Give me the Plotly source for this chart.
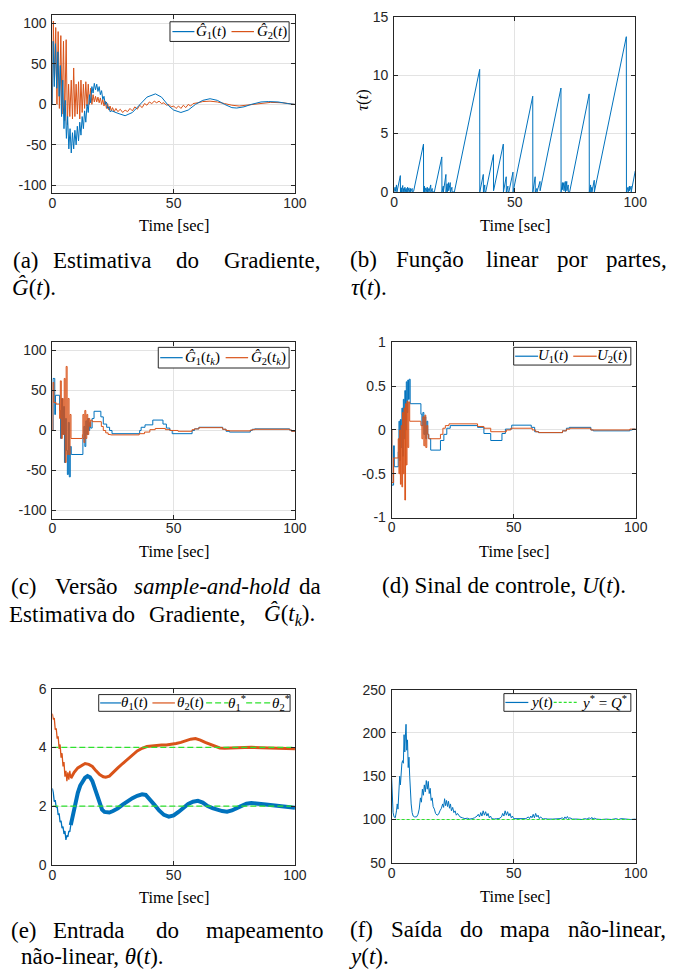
import plotly.graph_objects as go

# ---------------- DATA ----------------
# (a) gradient estimate
a_t1 = [0, 0.3, 0.8, 1.3, 1.8, 2.3, 2.8, 3.3, 3.8, 4.3, 4.8, 5.3, 5.8, 6.3, 6.8, 7.3, 7.8, 8.3, 8.8, 9.3,
        9.8, 10.3, 10.8, 11.3, 11.8, 12.3, 12.8, 13.3, 13.8, 14.3, 14.8, 15.3, 15.8, 16.3, 16.8, 17.3, 17.8,
        18.3, 18.8, 19.3, 19.8, 20.3, 20.8, 21.3, 21.8, 22.3, 22.8, 23.3, 23.8, 24.5, 27, 30, 33, 36, 39,
        42.5, 45, 48, 50, 53, 56, 59, 62, 65, 68, 71, 74, 76, 79, 82, 86, 89, 93, 97, 100]
a_g1 = [0, 78, 22, 75, 20, 65, 10, 48, -15, 30, -30, 5, -42, -15, -55, -30, -60, -35, -55, -32,
        -50, -27, -45, -22, -38, -15, -30, -8, -22, 0, -10, 12, 2, 22, 14, 26, 18,
        25, 16, 22, 12, 17, 6, 10, 0, 3, -5, -3, -9, -8, -11, -14, -10, 0, 9,
        13, 9, -2, -7, -10, -7, 0, 5, 7, 5, 0, -4, -4.5, -3, 0, 3, 3.5, 3, 1, 0]
a_t2 = [0, 0.4, 0.9, 1.4, 1.9, 2.4, 2.9, 3.5, 4.0, 4.6, 5.1, 5.7, 6.2, 6.7, 7.2, 7.8, 8.3, 8.8, 9.3, 9.8,
        10.3, 10.8, 11.3, 11.8, 12.3, 12.8, 13.3, 13.8, 14.3, 14.8, 15.3, 15.8, 16.3, 16.8, 17.3, 17.8,
        18.3, 18.8, 19.3, 19.8, 20.3, 20.8, 21.3, 21.8, 22.3, 22.8, 23.3, 23.8, 24.3, 24.8, 25.5, 26.2,
        27, 28, 29, 30, 31, 32, 33, 34, 35, 36, 37, 38, 39, 40, 41, 42, 43, 44, 45, 46, 47, 48, 49, 50,
        51, 52, 53, 54, 55, 56, 57, 58, 60, 62, 65, 68, 71, 74, 77, 80, 85, 90, 95, 100]
a_g2 = [0, 103, 30, 95, 0, 90, -5, 85, -12, 78, -20, 80, -25, 25, -15, 30, -18, 45, -15, 25,
        -12, 28, -18, 30, -10, 25, -5, 28, -2, 25, 0, 20, 0, 12, 3, 10,
        3, 9, 2, 8, 0, 6, -2, 4, -5, 1, -7, -2, -8, -4, -9, -5,
        -9, -6, -10, -7, -9, -5, -8, -3, -6, -1, -4, 1, -1, 3, 1, 4, 2, 4, 1, 2, -1, 0, -3, -2,
        -5, -2, -5, -1, -4, 0, -2, 1, 2, 3.5, 4, 3, 1, -1, -2, -1, 1, 2.5, 2, 0]

# (b) piecewise linear tau(t)  (t, tau)
b_tau = [(0, 0), (0.4, 0.4), (0.6, 0.05), (1.0, 0.6), (1.2, 0), (2.6, 1.4), (2.65, 0), (3.0, 0.35), (3.05, 0),
         (3.6, 0.55), (3.65, 0), (4.0, 0.3), (4.05, 0), (4.5, 0.4), (4.55, 0), (5.0, 0.3), (5.05, 0), (5.6, 0.4),
         (5.65, 0), (6.2, 0.35), (6.25, 0), (6.8, 0.3), (6.85, 0), (7.5, 0.3), (7.55, 0), (8.1, 0.05), (12.2, 4.1),
         (12.25, 0), (12.6, 0.5), (12.65, 0), (13.2, 0.35), (13.25, 0), (13.8, 0.4), (13.85, 0), (14.4, 0.3),
         (14.45, 0), (15.2, 0.6), (15.25, 0), (15.8, 0.3), (15.85, 0), (16.7, 0), (19.8, 3.0), (19.85, 0),
         (20.4, 0.5), (20.45, 0), (21.5, 1.5), (21.55, 0), (22.0, 0.7), (22.05, 0), (22.6, 0.8), (22.65, 0.1),
         (23.3, 0.8), (23.35, 0), (24.0, 0.4), (24.05, 0), (25.0, 0), (35.5, 10.5), (35.55, 0), (37.0, 1.5),
         (37.05, 0), (37.6, 0.6), (37.65, 0), (38.0, 0), (41.2, 3.2), (41.25, 0.1), (45.3, 4.1), (45.35, 0),
         (46.5, 1.3), (46.55, 0), (47.2, 0.5), (47.25, 0), (47.6, 0), (49.3, 1.7), (49.35, 0), (57.5, 8.2),
         (57.55, 0), (58.5, 1.3), (58.55, 0), (59.2, 0.3), (59.25, 0), (60.5, 0.9), (60.55, 0.1), (69.2, 8.9),
         (69.25, 0), (69.8, 0.8), (69.85, 0.2), (70.4, 0.8), (70.45, 0.1), (71.0, 0.9), (71.05, 0), (71.6, 0.9),
         (71.65, 0.1), (72.2, 0.6), (72.25, 0), (72.8, 0), (80.9, 8.4), (80.95, 0), (81.5, 0.6), (81.55, 0),
         (82.0, 0.4), (82.05, 0), (83.0, 1.0), (83.05, 0), (96.3, 13.3), (96.35, 0), (97.0, 0.4), (97.05, 0),
         (97.6, 0.5), (97.65, 0.1), (98.3, 0.5), (98.35, 0), (100, 1.8)]

# (c) sample-and-hold gradient (t_k, value)
c_g1 = [(0, 0), (0.3, 65), (1.0, 20), (1.3, 44), (3.0, 25), (3.4, -10), (3.8, 40), (4.2, -5), (4.6, 30),
        (5.0, -40), (5.4, 15), (5.8, -25), (6.2, -55), (6.6, 10), (7.0, -58), (7.4, -20), (7.8, -30),
        (12.6, -10), (13.0, 5), (13.4, -20), (13.8, 12), (14.2, -5), (14.6, 15), (15.0, 0), (15.4, 10),
        (15.8, 3), (16.4, 15), (17.2, 24), (20.0, 17), (21.0, 8), (22.4, 4), (23.6, 0), (24.6, -4),
        (36.0, 0), (36.6, 4), (38.2, 7), (41.4, 13), (45.6, 8), (47.0, 3), (48.4, 0), (49.4, -4),
        (57.6, 0), (58.6, 2), (60.4, 4), (70.2, 1.5), (71.6, -1), (73.0, -2), (81.6, 0), (82.4, 1.5),
        (83.4, 2), (97.8, 0.5), (98.6, -1), (100, -1)]
c_g2 = [(0, 0), (0.2, 60), (0.6, 35), (1.5, 33), (3.0, 15), (3.3, 62), (3.7, -10), (4.1, 40), (4.5, -5),
        (4.9, 65), (5.3, -40), (5.7, 80), (6.1, -30), (6.5, 40), (6.9, -30), (7.3, 20), (7.7, -10),
        (12.4, -5), (12.6, 20), (13.0, -15), (13.4, 25), (13.8, -10), (14.2, 20), (14.6, -5), (15.0, 15),
        (15.4, 5), (15.8, 13), (16.4, 11), (20.2, 5), (21.0, 0), (22.0, -3), (23.0, -5), (24.0, -5.5),
        (35.8, -4), (38.0, -2), (40.2, 1), (42.4, 2.5), (46.6, 1), (48.6, 0), (51.8, -1), (57.6, 1),
        (58.6, 2), (60.4, 3.5), (70.2, 1.5), (71.6, 0), (73.0, -0.5), (81.6, 0.5), (82.4, 1), (83.4, 1.5),
        (97.8, 0.5), (98.6, -1), (100, -1)]

# (d) control signal (t, value)
d_u1 = [(0, 0), (0.05, -0.63), (0.8, -0.18), (1.1, -0.42), (2.7, -0.25), (3.0, 0.1), (3.3, -0.35), (3.6, 0.12),
        (3.9, -0.2), (4.2, 0.25), (4.5, -0.3), (4.8, 0.35), (5.1, -0.1), (5.4, 0.45), (5.7, 0.0), (6.0, 0.55),
        (6.3, 0.2), (6.6, 0.57), (6.9, 0.35), (7.2, 0.58), (7.6, 0.3), (12.0, 0.18), (12.4, 0.05), (12.8, 0.2),
        (13.2, -0.05), (13.6, 0.15), (14.0, -0.1), (14.4, 0.1), (14.8, -0.05), (15.2, -0.1), (16.0, -0.23),
        (20.0, -0.12), (21.4, -0.05), (22.6, 0.02), (24.0, 0.05), (35.2, 0.03), (37.8, -0.04), (40.6, -0.12),
        (45.2, -0.04), (46.6, 0.01), (49.2, 0.055), (57.2, 0.03), (58.6, -0.02), (60.2, -0.03), (70.0, -0.01),
        (71.6, 0.02), (72.8, 0.03), (81.6, 0.0), (82.6, -0.01), (97.6, 0.0), (98.6, 0.01), (100, 0.01)]
d_u2 = [(0, 0), (0.1, -0.6), (0.8, -0.32), (2.7, -0.1), (3.0, -0.5), (3.3, 0.0), (3.6, -0.62), (3.9, 0.05),
        (4.2, -0.65), (4.5, 0.2), (4.8, -0.5), (5.1, 0.25), (5.4, -0.8), (5.7, 0.3), (6.0, -0.4), (6.3, 0.33),
        (6.6, -0.2), (7.0, 0.32), (7.4, 0.1), (12.0, 0.05), (12.4, -0.1), (12.8, 0.15), (13.2, -0.18),
        (13.6, 0.17), (14.0, -0.2), (14.4, 0.05), (14.8, -0.05), (15.2, -0.1), (20.0, -0.05), (21.0, 0.02),
        (22.0, 0.05), (23.5, 0.07), (35.2, 0.04), (37.8, 0.02), (40.6, -0.02), (47.0, 0.0), (48.8, 0.02),
        (57.6, 0.0), (59.0, -0.02), (60.2, -0.03), (70.0, -0.01), (71.6, 0.01), (73.0, 0.02), (81.6, 0.0),
        (97.6, 0.01), (100, 0.01)]

# (e) map input theta(t)
e_th1_early = [(0, 2.6), (0.4, 2.45), (0.8, 2.15), (1.2, 2.2), (1.6, 1.95), (2.0, 1.98), (2.4, 1.7), (2.8, 1.75),
               (3.2, 1.45), (3.6, 1.5), (4.0, 1.25), (4.4, 1.3), (4.8, 1.05), (5.2, 1.15), (5.6, 0.85), (6.0, 1.0),
               (6.4, 0.95), (6.8, 1.15), (7.2, 1.12), (7.6, 1.35)]
e_th1_late = [(7.6, 1.35), (8.5, 1.7), (9.5, 2.1), (10.5, 2.45), (11.5, 2.7), (12.5, 2.85), (13.5, 2.97),
              (14.5, 3.02), (15.5, 2.98), (16.5, 2.85), (17.5, 2.6), (18.5, 2.3), (19.5, 2.05), (20.5, 1.88),
              (21.5, 1.8), (22.5, 1.78), (23.5, 1.78), (25, 1.83), (27, 1.92), (29, 2.05), (31, 2.17), (33, 2.27),
              (35, 2.35), (37, 2.4), (38.5, 2.38), (40, 2.25), (42, 2.05), (44, 1.85), (46, 1.7), (48, 1.64),
              (50, 1.68), (52, 1.8), (54, 1.95), (56, 2.07), (58, 2.15), (60, 2.18), (62, 2.12), (64, 2.0),
              (66, 1.93), (68, 1.87), (70, 1.83), (72, 1.81), (74, 1.85), (76, 1.93), (78, 2.02), (80, 2.08),
              (82, 2.1), (84, 2.1), (86, 2.07), (88, 2.05), (90, 2.03), (92, 2.0), (94, 1.98), (96, 1.96),
              (98, 1.95), (100, 1.94)]
e_th2_early = [(0, 5.15), (0.4, 4.95), (0.8, 5.0), (1.2, 4.6), (1.6, 4.65), (2.0, 4.3), (2.4, 4.38), (2.8, 3.95),
               (3.2, 4.1), (3.6, 3.65), (4.0, 3.8), (4.4, 3.35), (4.8, 3.5), (5.2, 3.0), (5.6, 3.2), (6.0, 2.85),
               (6.4, 3.15), (6.8, 2.9), (7.2, 3.2), (7.6, 2.95)]
e_th2_late = [(7.6, 2.95), (9, 3.15), (10.5, 3.3), (12, 3.38), (13.5, 3.45), (15, 3.42), (16.5, 3.35), (18, 3.2),
              (19.5, 3.07), (21, 3.0), (22, 2.98), (23.5, 3.02), (25, 3.15), (27, 3.3), (29, 3.45), (31, 3.6),
              (33, 3.75), (35, 3.88), (37, 3.97), (39, 4.03), (41, 4.05), (43, 4.07), (45, 4.08), (47, 4.08),
              (49, 4.1), (51, 4.13), (53, 4.17), (55, 4.22), (57, 4.28), (59, 4.3), (61, 4.25), (63, 4.17),
              (65, 4.1), (67, 4.03), (69, 3.98), (71, 3.97), (73, 3.98), (75, 3.99), (78, 4.0), (82, 4.0),
              (86, 3.99), (90, 3.98), (94, 3.97), (97, 3.96), (100, 3.95)]
theta_star = [2, 4]

# (f) map output y(t)
f_y = [(0, 148), (0.3, 130), (0.6, 108), (1.0, 103), (1.5, 102), (2.0, 110), (2.3, 118), (2.6, 112), (3.0, 135),
       (3.3, 150), (3.6, 140), (3.9, 155), (4.2, 165), (4.5, 168), (4.8, 165), (5.1, 198), (5.4, 178), (5.7, 200),
       (5.9, 210), (6.2, 180), (6.5, 192), (6.8, 160), (7.1, 172), (7.4, 150), (7.7, 130), (8.0, 118), (8.4, 108),
       (8.8, 104), (9.4, 103), (10.2, 103), (10.8, 106), (11.3, 112), (11.8, 125), (12.2, 120), (12.6, 135),
       (13.0, 128), (13.4, 140), (13.8, 132), (14.2, 145), (14.6, 135), (15.0, 144), (15.4, 130), (15.8, 136),
       (16.2, 122), (16.6, 125), (17.0, 115), (17.5, 112), (18.0, 107), (18.6, 105), (19.2, 106), (19.8, 110),
       (20.4, 113), (20.9, 118), (21.3, 114), (21.7, 124), (22.1, 116), (22.5, 122), (22.9, 115), (23.3, 121),
       (23.7, 113), (24.1, 118), (24.5, 110), (25, 114), (25.5, 108), (26, 110), (26.5, 105), (27, 107),
       (28, 103), (29, 102), (30, 101), (31, 101.5), (32, 100.5), (33, 101), (34, 102), (35, 104), (35.5, 106),
       (36, 103), (36.5, 108), (37, 104), (37.5, 110), (38, 105), (38.5, 109), (39, 104), (39.5, 107), (40, 102),
       (40.5, 104), (41, 101), (42, 100.5), (43, 101), (44, 101), (45, 103), (45.5, 107), (46, 104), (46.5, 110),
       (47, 105), (47.5, 109), (48, 104), (48.5, 107), (49, 102), (49.5, 104), (50, 101), (51, 101), (52, 100.5),
       (53, 100.5), (54, 100.5), (55, 101), (56, 103), (56.5, 101), (57, 104), (57.5, 102), (58, 106),
       (58.5, 102), (59, 107), (59.5, 103), (60, 105), (60.5, 101), (61, 103), (62, 100.5), (63, 101),
       (64, 100.5), (66, 100.5), (68, 100.5), (69, 101), (70, 102), (70.5, 100.5), (71, 103), (71.5, 101),
       (72, 103.5), (72.5, 101), (73, 102), (74, 100.5), (76, 100.5), (78, 100), (79, 101), (80, 100.5),
       (81, 102), (81.5, 100.5), (82, 102.5), (82.5, 100.5), (83, 101.5), (84, 100.5), (86, 100), (88, 100.5),
       (90, 100), (92, 101), (93, 100), (94, 101), (96, 100.5), (98, 100), (100, 100.5)]
y_star = 100

# axis ticks
x_ticks = [0, 50, 100]
y_ticks = {1: [-100, -50, 0, 50, 100], 2: [0, 5, 10, 15], 3: [-100, -50, 0, 50, 100],
           4: [-1, -0.5, 0, 0.5, 1], 5: [0, 2, 4, 6], 6: [50, 100, 150, 200, 250]}
y_ranges = {1: [-110, 110], 2: [0, 15], 3: [-110, 110], 4: [-1, 1], 5: [0, 6], 6: [50, 250]}

# ---------------- STYLE / LAYOUT ----------------
W, H = 678, 978
def X(p): return p / W
def Y(p): return 1 - p / H

BLUE = '#0072BD'
ORANGE = '#D95319'
GREEN = '#2ee22e'
AXC = '#262626'
SERIF = 'Liberation Serif'
SANS = 'Liberation Sans'
CAP = 23
TTL = 16.5

boxes = {1: (49.5, 298, 7.5, 188.5), 2: (399.5, 646.5, 9, 187), 3: (49.5, 298, 340, 519),
         4: (397, 647, 340, 518), 5: (49.5, 298, 692, 871), 6: (397, 647, 693, 869)}

def split(pts):
    return [p[0] for p in pts], [p[1] for p in pts]

def fmt(v):
    return '%g' % v

fig = go.Figure()

def add(i, xs, ys, color, width=1.0, dash='solid', shape='linear'):
    fig.add_trace(go.Scatter(x=xs, y=ys, mode='lines', xaxis='x' + (str(i) if i > 1 else ''),
                             yaxis='y' + (str(i) if i > 1 else ''),
                             line=dict(color=color, width=width, dash=dash, shape=shape),
                             showlegend=False, hoverinfo='skip'))

add(1, a_t2, a_g2, ORANGE)
add(1, a_t1, a_g1, BLUE)
bt, bv = split(b_tau)
add(2, bt, bv, BLUE)
t, v = split(c_g1); add(3, t, v, BLUE, shape='hv')
t, v = split(c_g2); add(3, t, v, ORANGE, shape='hv')
t, v = split(d_u1); add(4, t, v, BLUE, shape='hv')
t, v = split(d_u2); add(4, t, v, ORANGE, shape='hv')
t, v = split(e_th1_early); add(5, t, v, BLUE, 1.3)
t, v = split(e_th1_late); add(5, t, v, BLUE, 4)
t, v = split(e_th2_early); add(5, t, v, ORANGE, 1.3)
t, v = split(e_th2_late); add(5, t, v, ORANGE, 3)
for s in theta_star:
    add(5, [0, 100], [s, s], GREEN, 1.3, '6px,3px')
t, v = split(f_y); add(6, t, v, BLUE)
add(6, [0, 100], [y_star, y_star], GREEN, 1.2, '3px,2px')

layout = dict(width=W, height=H, margin=dict(l=0, r=0, t=0, b=0, pad=0),
              paper_bgcolor='white', plot_bgcolor='white', showlegend=False)
for i, (x0, x1, y0, y1) in boxes.items():
    sfx = str(i) if i > 1 else ''
    common = dict(showline=True, linecolor=AXC, linewidth=1, mirror='ticks', ticks='inside', ticklen=4,
                  tickcolor=AXC, tickwidth=1, showgrid=True, gridcolor='#e3e3e3', gridwidth=1, zeroline=False,
                  tickfont=dict(family=SANS, size=14, color=AXC), fixedrange=True)
    layout['xaxis' + sfx] = dict(common, domain=[X(x0), X(x1)], anchor='y' + sfx, range=[0, 100],
                                 tickmode='array', tickvals=x_ticks, ticktext=[fmt(v) for v in x_ticks],
                                 ticklabelstandoff=-3)
    layout['yaxis' + sfx] = dict(common, domain=[Y(y1), Y(y0)], anchor='x' + sfx, range=y_ranges[i],
                                 tickmode='array', tickvals=y_ticks[i], ticktext=[fmt(v) for v in y_ticks[i]],
                                 ticklabelstandoff=2)
fig.update_layout(**layout)

annotations = []
shapes = []

def text(s, x, y, size=CAP, angle=0, family=SERIF):
    annotations.append(dict(text=s, x=X(x), y=Y(y), xref='paper', yref='paper', xanchor='center',
                            yanchor='middle', showarrow=False, textangle=angle, borderpad=0,
                            font=dict(family=family, size=size, color='black')))

# axis titles
for cx, cy in [(174, 221), (523, 221.5), (174.5, 552.5), (522.5, 552.5), (174.5, 904), (523, 903.5)]:
    text('Time [sec]', cx, cy, TTL)
text('<i>τ</i>(<i>t</i>)', 367, 93, TTL, -90)

# legends: box, then (line x0, line x1, colour, dash, text centre, text)
legends = [
    ((170, 292, 14, 34), [(172.5, 195, BLUE, 'solid', 212, '<i>Ĝ</i><sub>1</sub>(<i>t</i>)'),
                          (233, 256, ORANGE, 'solid', 274, '<i>Ĝ</i><sub>2</sub>(<i>t</i>)')]),
    ((158, 292, 345, 366), [(160, 183, BLUE, 'solid', 203, '<i>Ĝ</i><sub>1</sub>(<i>t</i><sub><i>k</i></sub>)'),
                            (227, 250, ORANGE, 'solid', 271, '<i>Ĝ</i><sub>2</sub>(<i>t</i><sub><i>k</i></sub>)')]),
    ((522, 642, 345, 363), [(523.5, 547, BLUE, 'solid', 562.5, '<i>U</i><sub>1</sub>(<i>t</i>)'),
                            (583, 607, ORANGE, 'solid', 623, '<i>U</i><sub>2</sub>(<i>t</i>)')]),
    ((97, 293, 698, 715), [(98.5, 120, BLUE, 'solid', 134, '<i>θ</i><sub>1</sub>(<i>t</i>)'),
                           (152, 175, ORANGE, 'solid', 191, '<i>θ</i><sub>2</sub>(<i>t</i>)'),
                           (207, 230, GREEN, '6px,3px', 239, '<i>θ</i><sub>1</sub><sup>*</sup>'),
                           (248, 273, GREEN, '6px,3px', 283.5, '<i>θ</i><sub>2</sub><sup>*</sup>')]),
    ((512, 642, 697, 715), [(513.5, 537, BLUE, 'solid', 550.5, '<i>y</i>(<i>t</i>)'),
                            (563, 588, GREEN, '3px,2px', 615, '<i>y</i><sup>*</sup> = <i>Q</i><sup>*</sup>')]),
]
for (bx0, bx1, by0, by1), items in legends:
    shapes.append(dict(type='rect', xref='paper', yref='paper', x0=X(bx0), x1=X(bx1), y0=Y(by1), y1=Y(by0),
                       line=dict(color=AXC, width=1), fillcolor='white', layer='above'))
    yc = (by0 + by1) / 2
    for lx0, lx1, col, dash, tx, s in items:
        shapes.append(dict(type='line', xref='paper', yref='paper', x0=X(lx0), x1=X(lx1), y0=Y(yc), y1=Y(yc),
                           line=dict(color=col, width=1.2, dash=dash), layer='above'))
        text(s, tx, yc, 15)

# captions (word centres, as justified in the reference)
cap = [
    ('(a)', 22.5, 257), ('Estimativa', 100, 257), ('do', 187.5, 257), ('Gradiente,', 274, 257),
    ('<i>Ĝ</i>(<i>t</i>).', 30.5, 284),
    ('(b)', 368.3, 256), ('Função', 436.7, 256), ('linear', 520.5, 256), ('por', 582.5, 256),
    ('partes,', 647.5, 256), ('<i>τ</i>(<i>t</i>).', 374, 284),
    ('(c)', 20.8, 588.5), ('Versão', 84.2, 588.5), ('<i>sample-and-hold</i>', 213.3, 588.5), ('da', 313.3, 588.5),
    ('Estimativa', 55, 617), ('do', 122.5, 617), ('Gradiente,', 197.5, 617),
    ('<i>Ĝ</i>(<i>t</i><sub><i>k</i></sub>).', 292.5, 617),
    ('(d) Sinal de controle, <i>U</i>(<i>t</i>).', 512.5, 587),
    ('(e)', 20.5, 937.5), ('Entrada', 87.5, 937.5), ('do', 167.5, 937.5), ('mapeamento', 267.5, 937.5),
    ('não-linear, <i>θ</i>(<i>t</i>).', 90.5, 964),
    ('(f)', 366.5, 936.5), ('Saída', 422.3, 936.5), ('do', 479, 936.5), ('mapa', 533.3, 936.5),
    ('não-linear,', 627.5, 936.5), ('<i>y</i>(<i>t</i>).', 374, 964),
]
for s, x, y in cap:
    text(s, x, y, CAP)

fig.update_layout(annotations=annotations, shapes=shapes)
fig.write_html("out.html", config={'displayModeBar': False, 'staticPlot': True},
               post_script="document.body.style.margin='0';document.body.style.overflow='hidden';")
